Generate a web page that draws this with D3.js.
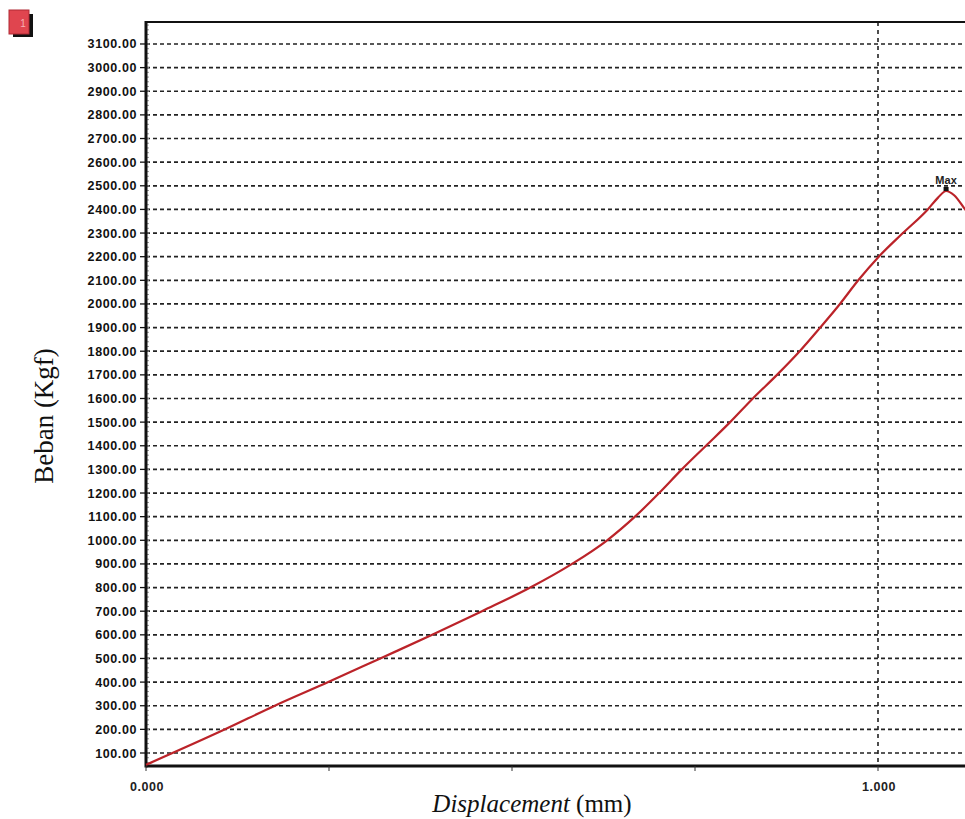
<!DOCTYPE html>
<html>
<head>
<meta charset="utf-8">
<script src="https://cdn.jsdelivr.net/npm/d3@7"></script>
<style>
  body { margin: 0; background: #fff; }
  svg { display: block; }
</style>
</head>
<body>
<script>
// values
var displacement = [0.000, 0.108, 0.176, 0.249, 0.320, 0.391, 0.459, 0.525, 0.582, 0.630,
                    0.668, 0.701, 0.732, 0.765, 0.798, 0.829, 0.862, 0.893, 0.921, 0.948,
                    0.973, 1.001, 1.034, 1.068, 1.082, 1.093, 1.104, 1.119, 1.135];
var beban = [50, 200, 300, 400, 500, 600, 700, 800, 900, 1000,
             1100, 1200, 1300, 1400, 1500, 1600, 1700, 1800, 1900, 2000,
             2100, 2200, 2300, 2400, 2450, 2478, 2460, 2400, 2340];
var yTicks = d3.range(100, 3101, 100);
var xTicks = [0, 1];
var xMinor = [0.25, 0.5, 0.75];
var maxLabel = "Max";

var width = 965, height = 819;
var margin = {top: 22, left: 146, bottom: 766};

var svg = d3.select("body").append("svg")
    .attr("width", width)
    .attr("height", height);

var xscale = d3.scaleLinear().domain([0, 1]).range([margin.left, 878]);
var yscale = d3.scaleLinear().domain([45, 3193]).range([margin.bottom, margin.top]);
var xEnd = xscale(1.19);

// little red window icon top-left
svg.append("rect").attr("x", 13).attr("y", 14).attr("width", 20).attr("height", 23).attr("fill", "#111");
svg.append("rect").attr("x", 9).attr("y", 10).attr("width", 20).attr("height", 24)
    .attr("fill", "#e0454f").attr("stroke", "#b02a35").attr("stroke-width", 1);
svg.append("text").attr("x", 23).attr("y", 27).attr("font-family", "Liberation Sans")
    .attr("font-size", 10).attr("fill", "#f6b0b5").attr("text-anchor", "middle").text("1");

// horizontal dashed grid
svg.append("g").selectAll("line")
    .data(yTicks)
    .enter()
    .append("line")
        .attr("x1", margin.left).attr("x2", xEnd)
        .attr("y1", function(d) { return yscale(d); })
        .attr("y2", function(d) { return yscale(d); })
        .attr("stroke", "#222")
        .attr("stroke-width", 1.7)
        .attr("stroke-dasharray", "4,3");

// vertical dashed line at 1.000
svg.append("line")
    .attr("x1", xscale(1)).attr("x2", xscale(1))
    .attr("y1", margin.top).attr("y2", margin.bottom)
    .attr("stroke", "#222").attr("stroke-width", 1.6)
    .attr("stroke-dasharray", "4,4");

// minor ticks on y axis
svg.append("g").selectAll("line")
    .data(d3.range(60, 3193, 20))
    .enter()
    .append("line")
        .attr("x1", margin.left - 1).attr("x2", margin.left + 3)
        .attr("y1", function(d) { return yscale(d); })
        .attr("y2", function(d) { return yscale(d); })
        .attr("stroke", "#999").attr("stroke-width", 1);

// frame
svg.append("line").attr("x1", margin.left).attr("x2", xEnd)
    .attr("y1", margin.top).attr("y2", margin.top)
    .attr("stroke", "#111").attr("stroke-width", 2);
svg.append("line").attr("x1", margin.left).attr("x2", xEnd)
    .attr("y1", margin.bottom).attr("y2", margin.bottom)
    .attr("stroke", "#111").attr("stroke-width", 3);
svg.append("line").attr("x1", margin.left).attr("x2", margin.left)
    .attr("y1", margin.top - 1).attr("y2", margin.bottom + 1.5)
    .attr("stroke", "#111").attr("stroke-width", 3);

// y ticks and labels
var yAxis = svg.append("g");
yAxis.selectAll("line")
    .data(yTicks)
    .enter()
    .append("line")
        .attr("x1", margin.left - 6).attr("x2", margin.left)
        .attr("y1", function(d) { return yscale(d); })
        .attr("y2", function(d) { return yscale(d); })
        .attr("stroke", "#111").attr("stroke-width", 1.3);
yAxis.selectAll("text")
    .data(yTicks)
    .enter()
    .append("text")
        .attr("x", 137)
        .attr("y", function(d) { return yscale(d); })
        .attr("dy", "0.36em")
        .attr("text-anchor", "end")
        .attr("font-family", "Liberation Sans, Arial, sans-serif")
        .attr("font-weight", "bold")
        .attr("font-size", 12.5)
        .attr("letter-spacing", 0.6)
        .attr("fill", "#111")
        .text(d3.format(".2f"));

// x ticks and labels
var xAxis = svg.append("g");
xAxis.selectAll("line")
    .data(xTicks.concat(xMinor))
    .enter()
    .append("line")
        .attr("x1", function(d) { return xscale(d); })
        .attr("x2", function(d) { return xscale(d); })
        .attr("y1", margin.bottom).attr("y2", margin.bottom + 5)
        .attr("stroke", "#333").attr("stroke-width", 1);
xAxis.selectAll("text")
    .data(xTicks)
    .enter()
    .append("text")
        .attr("x", function(d) { return xscale(d) + 1; })
        .attr("y", 791)
        .attr("text-anchor", "middle")
        .attr("font-family", "Liberation Sans, Arial, sans-serif")
        .attr("font-weight", "bold")
        .attr("font-size", 12.5)
        .attr("letter-spacing", 0.5)
        .attr("fill", "#222")
        .text(d3.format(".3f"));

// the load curve
var pts = displacement.map(function(d, i) { return [d, beban[i]]; });
var line = d3.line()
    .x(function(d) { return xscale(d[0]); })
    .y(function(d) { return yscale(d[1]); })
    .curve(d3.curveMonotoneX);
svg.append("path")
    .datum(pts)
    .attr("d", line)
    .attr("fill", "none")
    .attr("stroke", "#bb2329")
    .attr("stroke-width", 2.2);

// max marker
var imax = d3.maxIndex(beban);
svg.append("rect")
    .attr("x", xscale(displacement[imax]) - 2.5)
    .attr("y", yscale(beban[imax]) - 4)
    .attr("width", 5).attr("height", 4)
    .attr("fill", "#111");
svg.append("text")
    .attr("x", xscale(displacement[imax]))
    .attr("y", yscale(beban[imax]) - 7)
    .attr("text-anchor", "middle")
    .attr("font-family", "Liberation Sans, Arial, sans-serif")
    .attr("font-weight", "bold")
    .attr("font-size", 11)
    .attr("fill", "#222")
    .text(maxLabel);

// axis titles
var xTitle = svg.append("text")
    .attr("x", 532).attr("y", 812)
    .attr("text-anchor", "middle")
    .attr("font-family", "Liberation Serif, Times New Roman, serif")
    .attr("font-size", 25)
    .attr("fill", "#111");
xTitle.append("tspan").attr("font-style", "italic").text("Displacement");
xTitle.append("tspan").text(" (mm)");

svg.append("text")
    .attr("transform", "translate(53,416) rotate(-90)")
    .attr("text-anchor", "middle")
    .attr("font-family", "Liberation Serif, Times New Roman, serif")
    .attr("font-size", 27)
    .attr("fill", "#111")
    .text("Beban (Kgf)");
</script>
</body>
</html>
